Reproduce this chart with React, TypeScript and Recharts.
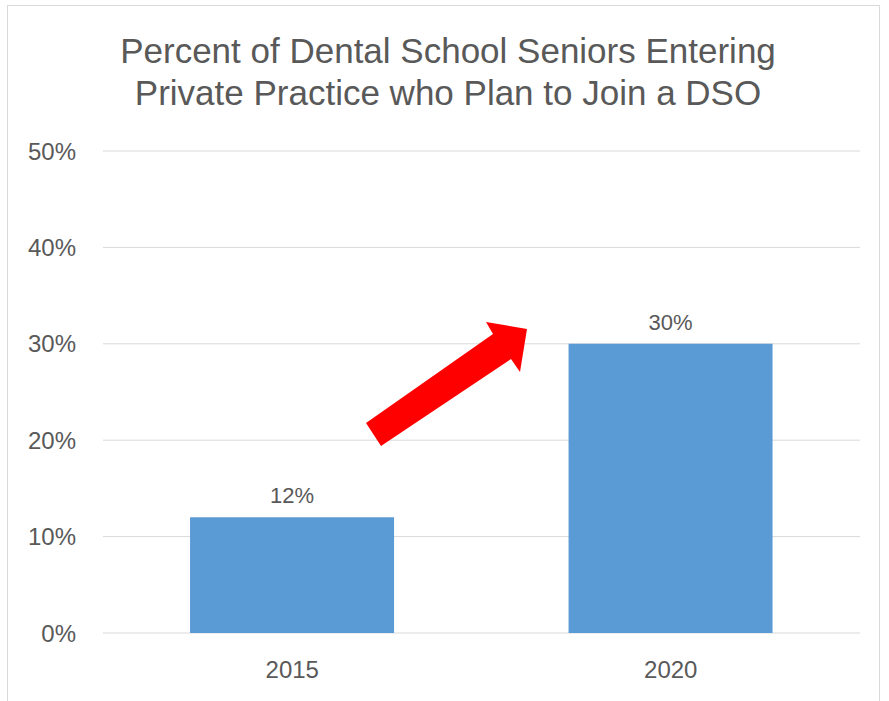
import React from 'react';
import { BarChart, Bar, XAxis, YAxis, CartesianGrid, LabelList } from 'recharts';

const years = ['2015', '2020'];
const dsoShare = [12, 30];
const yTicks = [0, 10, 20, 30, 40, 50];
const titleLines = ['Percent of Dental School Seniors Entering', 'Private Practice who Plan to Join a DSO'];

const FONT = '"Liberation Sans", Arial, sans-serif';
const TEXT = '#595959';

const data = years.map((y, i) => ({ year: y, value: dsoShare[i] }));

// annotation arrow drawn over the chart
const arrowPoints = '366,423 493,334 486,322 527,329 520,372 511,359 381,446';

const App: React.FC = () => {
  return (
    <div style={{ position: 'absolute', left: 0, top: 0, width: 889, height: 701, background: '#fff', overflow: 'hidden' }}>
      <div
        style={{
          position: 'absolute',
          left: 7,
          top: 5,
          width: 873,
          height: 720,
          border: '1px solid #d9d9d9',
          boxSizing: 'border-box',
        }}
      />
      <div
        style={{
          position: 'absolute',
          left: 0,
          top: 30,
          width: 896,
          textAlign: 'center',
          fontFamily: FONT,
          fontSize: 35,
          lineHeight: '42px',
          color: TEXT,
        }}
      >
        {titleLines.map(t => (
          <div key={t}>{t}</div>
        ))}
      </div>
      <div style={{ position: 'absolute', left: 0, top: 0 }}>
        <BarChart
          width={889}
          height={701}
          data={data}
          margin={{ top: 151, right: 29, left: 0, bottom: 0 }}
          barCategoryGap="23%"
        >
          <CartesianGrid vertical={false} stroke="#d9d9d9" strokeWidth={1} />
          <XAxis
            dataKey="year"
            height={68}
            axisLine={false}
            tickLine={false}
            tick={{ fill: TEXT, fontSize: 24, fontFamily: FONT }}
            tickMargin={22}
          />
          <YAxis
            width={103}
            domain={[0, 50]}
            ticks={yTicks}
            tickFormatter={v => `${v}%`}
            axisLine={false}
            tickLine={false}
            tick={{ fill: TEXT, fontSize: 24, fontFamily: FONT }}
            tickMargin={21}
          />
          <Bar dataKey="value" fill="#5b9bd5" isAnimationActive={false}>
            <LabelList
              dataKey="value"
              position="top"
              offset={14}
              formatter={(v: number) => `${v}%`}
              style={{ fill: TEXT, fontSize: 22, fontFamily: FONT }}
            />
          </Bar>
        </BarChart>
      </div>
      <svg width={889} height={701} style={{ position: 'absolute', left: 0, top: 0, pointerEvents: 'none' }}>
        <polygon points={arrowPoints} fill="#ff0000" />
      </svg>
    </div>
  );
};

export default App;
